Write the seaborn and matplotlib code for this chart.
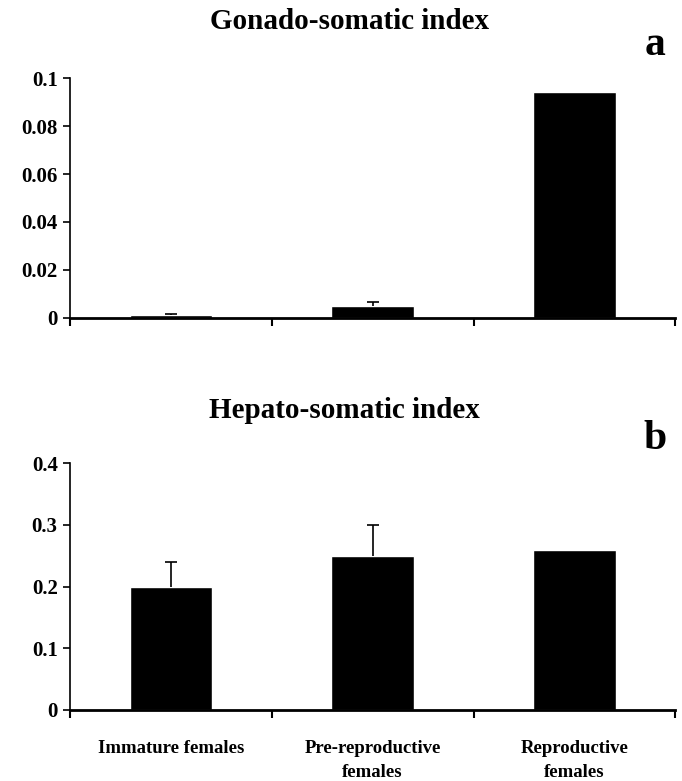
import matplotlib.pyplot as plt
import numpy as np
import pandas as pd
import seaborn as sns

sns.set_theme(style="white")
plt.rcParams['font.family'] = ['Liberation Serif', 'DejaVu Serif']
plt.rcParams['font.weight'] = 'bold'
plt.rcParams['text.color'] = 'black'
plt.rcParams['xtick.color'] = 'black'
plt.rcParams['ytick.color'] = 'black'

groups = ['Immature females', 'Pre-reproductive\nfemales', 'Reproductive\nfemales']
gsi_mean = [0.001, 0.005, 0.094]
gsi_err = [0.0008, 0.0015, 0.0]
hsi_mean = [0.20, 0.25, 0.26]
hsi_err = [0.04, 0.05, 0.0]

fig = plt.figure(figsize=(6.82, 7.81), dpi=100)
ax1 = fig.add_axes([0.103, 0.593, 0.887, 0.307])
ax2 = fig.add_axes([0.103, 0.091, 0.887, 0.316])


def draw(ax, mean, err, ymax, step, fmt, show_labels):
    df = pd.DataFrame({'group': groups, 'value': mean})
    sns.barplot(data=df, x='group', y='value', color='black', width=0.41,
                saturation=1, ax=ax, errorbar=None)
    x = np.arange(len(groups))
    keep = [i for i in x if err[i] > 0]
    eb = ax.errorbar([x[i] for i in keep], [mean[i] for i in keep],
                     yerr=[[0] * len(keep), [err[i] for i in keep]], fmt='none',
                     ecolor='black', elinewidth=1.2, capsize=4, capthick=1.2)
    # hide the cap at the bar top, keep only the upper one
    if len(eb[1]) == 2:
        eb[1][0].set_visible(False)
    ax.set_xlim(-0.5, 2.5)
    ax.set_ylim(0, ymax)
    yt = np.arange(0, ymax + step / 2, step)
    ax.set_yticks(yt)
    ax.set_yticklabels([fmt(v) for v in yt], fontsize=15, fontweight='bold')
    ax.set_xticks([-0.5, 0.5, 1.5, 2.5])
    ax.set_xticklabels([])
    ax.set_xticks(x, minor=True)
    if show_labels:
        ax.set_xticklabels(groups, minor=True, fontsize=13.5, fontweight='bold',
                           linespacing=1.5)
    ax.tick_params(axis='x', which='major', direction='out', length=6, width=1.5,
                   bottom=True, color='black')
    ax.tick_params(axis='x', which='minor', length=0, pad=22)
    ax.tick_params(axis='y', direction='out', length=5, width=1.2, left=True,
                   color='black', pad=4)
    for s in ['top', 'right']:
        ax.spines[s].set_visible(False)
    ax.spines['left'].set_color('black')
    ax.spines['left'].set_linewidth(1.2)
    ax.spines['bottom'].set_color('black')
    ax.spines['bottom'].set_linewidth(2)
    ax.set_xlabel('')
    ax.set_ylabel('')


def f1(v):
    return '0' if v == 0 else ('%.2f' % v).rstrip('0')


def f2(v):
    return '0' if v == 0 else '%.1f' % v


draw(ax1, gsi_mean, gsi_err, 0.1, 0.02, f1, False)
draw(ax2, hsi_mean, hsi_err, 0.4, 0.1, f2, True)

fig.text(0.513, 0.972, 'Gonado-somatic index', ha='center', va='center',
         fontsize=21, fontweight='bold')
fig.text(0.96, 0.942, 'a', ha='center', va='center', fontsize=30, fontweight='bold')
fig.text(0.505, 0.475, 'Hepato-somatic index', ha='center', va='center',
         fontsize=21, fontweight='bold')
fig.text(0.96, 0.438, 'b', ha='center', va='center', fontsize=30, fontweight='bold')

plt.savefig('out.png', dpi=100)
